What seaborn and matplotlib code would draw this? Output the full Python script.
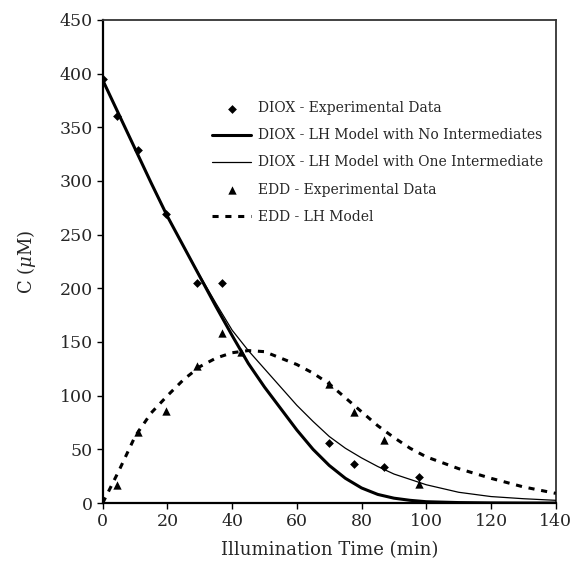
import matplotlib
matplotlib.use("Agg")
import matplotlib.pyplot as plt
import seaborn as sns
import pandas as pd

# Experimental measurements
diox_t = [0, 4.3, 10.8, 19.6, 29.2, 37.0, 70.0, 77.7, 86.8, 97.6]
diox_c = [395, 361, 329, 269, 205, 205, 56, 36, 34, 24]

edd_t = [0, 4.3, 10.8, 19.6, 29.2, 37.0, 42.6, 70.0, 77.7, 86.8, 97.6]
edd_c = [0, 17, 66, 86, 128, 158, 141, 111, 85, 59, 18]

# LH model curves
model_t = [0, 5, 10, 15, 20, 25, 30, 35, 40, 45, 50, 55, 60, 65, 70, 75, 80,
           85, 90, 95, 100, 110, 120, 130, 140]
diox_no_int = [394, 362, 330, 298, 267, 239, 211, 183, 156, 130, 108, 88, 68,
               50, 35, 23, 14, 8, 4.5, 2.5, 1.2, 0.4, 0.1, 0.0, 0.0]
diox_one_int = [394, 362, 330, 298, 267, 239, 212, 186, 161, 142, 125, 108, 91,
                76, 62, 51, 42, 34, 27, 22, 17, 10, 6, 4, 2.5]
edd_model = [0, 30, 62, 84, 100, 115, 127, 135, 140, 142, 141, 135, 129, 121,
             111, 98, 85, 72, 61, 51, 43, 32, 23, 15, 9]

lbl_diox_exp = "DIOX - Experimental Data"
lbl_no_int = "DIOX - LH Model with No Intermediates"
lbl_one_int = "DIOX - LH Model with One Intermediate"
lbl_edd_exp = "EDD - Experimental Data"
lbl_edd_mod = "EDD - LH Model"

sns.set_theme(style="white")
plt.rcParams["font.family"] = ["DejaVu Serif"]
plt.rcParams["mathtext.fontset"] = "dejavuserif"

fig = plt.figure(figsize=(5.79, 5.66), dpi=100)
ax = fig.add_axes([0.1774, 0.1113, 0.7824, 0.8534])

models = pd.DataFrame({"t": model_t, "no": diox_no_int, "one": diox_one_int,
                       "edd": edd_model})
diox = pd.DataFrame({"t": diox_t, "c": diox_c})
edd = pd.DataFrame({"t": edd_t, "c": edd_c})

sns.scatterplot(data=diox, x="t", y="c", ax=ax, marker="D", s=20,
                color="black", edgecolor="black", linewidth=0,
                label=lbl_diox_exp, zorder=4)
sns.lineplot(data=models, x="t", y="no", ax=ax, color="black", lw=2.2,
             label=lbl_no_int, zorder=3)
sns.lineplot(data=models, x="t", y="one", ax=ax, color="black", lw=0.9,
             label=lbl_one_int, zorder=3)
sns.scatterplot(data=edd, x="t", y="c", ax=ax, marker="^", s=36,
                color="black", edgecolor="black", linewidth=0,
                label=lbl_edd_exp, zorder=4)
sns.lineplot(data=models, x="t", y="edd", ax=ax, color="black", lw=2.2,
             linestyle=(0, (2.0, 2.2)), label=lbl_edd_mod, zorder=3)

ax.set_xlim(0, 140)
ax.set_ylim(0, 450)
ax.set_xticks(range(0, 141, 20))
ax.set_yticks(range(0, 451, 50))
ax.tick_params(axis="both", labelsize=12.5, direction="out", length=4,
               width=1, color="black", pad=3)
ax.tick_params(axis="x", bottom=True)
ax.tick_params(axis="y", left=True)

ax.set_xlabel("Illumination Time (min)", fontsize=13, labelpad=8)
ax.set_ylabel(r"C ($\mu$M)", fontsize=13, labelpad=16)

for side in ("left", "bottom"):
    ax.spines[side].set_color("black")
    ax.spines[side].set_linewidth(1.6)
for side in ("top", "right"):
    ax.spines[side].set_color("#333333")
    ax.spines[side].set_linewidth(1.3)

leg = ax.legend(loc="upper left", bbox_to_anchor=(0.23, 0.843), frameon=False,
                fontsize=10, handlelength=2.8, handletextpad=0.5,
                labelspacing=0.94, borderaxespad=0)

fig.savefig("out.png", dpi=100)
